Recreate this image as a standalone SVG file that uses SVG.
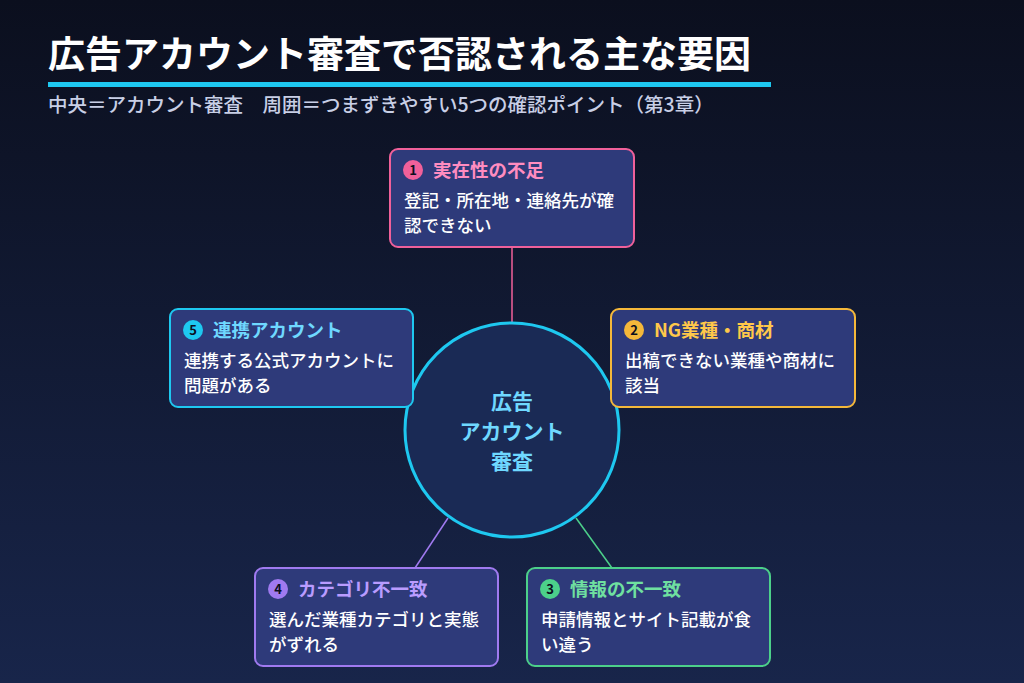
<svg xmlns="http://www.w3.org/2000/svg" width="1024" height="683" viewBox="0 0 1024 683">
<defs>
<linearGradient id="bg" x1="0" y1="0" x2="0" y2="1"><stop offset="0" stop-color="#0b0f1e"/><stop offset="1" stop-color="#18254a"/></linearGradient>
<style>
text{font-family:"Noto Sans CJK JP","Noto Sans",sans-serif}
.box{fill:#2e3a7a;stroke-width:2}
.t{font-size:18.5px;font-weight:bold}
.b{font-size:17.5px;fill:#ffffff;font-weight:500}
.n{font-size:13px;font-weight:bold;fill:#0b0f1e;text-anchor:middle}
</style>
</defs>
<rect width="1024" height="683" fill="url(#bg)"/>
<text x="48" y="68" font-size="37" font-weight="bold" fill="#ffffff">広告アカウント審査で否認される主な要因</text>
<rect x="48" y="82" width="723" height="5" fill="#1ec8f0"/>
<text x="48" y="112" font-size="19.5" font-weight="500" fill="#c8cfe6">中央＝アカウント審査　周囲＝つまずきやすい5つの確認ポイント（第3章）</text>
<g id="connectors" stroke-width="1.5">
<line x1="512" y1="247" x2="512" y2="322" stroke="#f0609a"/>
<line x1="413" y1="392" x2="418" y2="388" stroke="#1ec8f0"/>
<line x1="611" y1="392" x2="606" y2="388" stroke="#f5b83a"/>
<line x1="448" y1="518" x2="415" y2="568" stroke="#a07af0"/>
<line x1="576" y1="518" x2="612" y2="568" stroke="#4cd08a"/>
</g>
<g id="center">
<circle cx="512" cy="430" r="107" fill="#1a2a55" stroke="#1ec8f0" stroke-width="3"/>
<text x="512" y="409" font-size="21" font-weight="bold" fill="#6fd8ff" text-anchor="middle">広告</text>
<text x="512" y="439" font-size="21" font-weight="bold" fill="#6fd8ff" text-anchor="middle">アカウント</text>
<text x="512" y="469" font-size="21" font-weight="bold" fill="#6fd8ff" text-anchor="middle">審査</text>
</g>
<g id="n1">
<rect class="box" x="390" y="149" width="244" height="98" rx="8" stroke="#f0609a"/>
<circle cx="413" cy="170" r="10" fill="#f0609a"/><text class="n" x="413" y="175">1</text>
<text class="t" x="433" y="177" fill="#ff8cc0">実在性の不足</text>
<text class="b" x="404" y="207">登記・所在地・連絡先が確</text>
<text class="b" x="404" y="232">認できない</text>
</g>
<g id="n2">
<rect class="box" x="611" y="309" width="244" height="98" rx="8" stroke="#f5b83a"/>
<circle cx="634" cy="330" r="10" fill="#f5b83a"/><text class="n" x="634" y="335">2</text>
<text class="t" x="654" y="337" fill="#ffc84a">NG業種・商材</text>
<text class="b" x="625" y="367">出稿できない業種や商材に</text>
<text class="b" x="625" y="392">該当</text>
</g>
<g id="n3">
<rect class="box" x="527" y="568" width="243" height="98" rx="8" stroke="#4cd08a"/>
<circle cx="550" cy="589" r="10" fill="#4cd08a"/><text class="n" x="550" y="594">3</text>
<text class="t" x="570" y="596" fill="#6fe0a0">情報の不一致</text>
<text class="b" x="541" y="626">申請情報とサイト記載が食</text>
<text class="b" x="541" y="651">い違う</text>
</g>
<g id="n4">
<rect class="box" x="255" y="568" width="243" height="98" rx="8" stroke="#a07af0"/>
<circle cx="278" cy="589" r="10" fill="#a07af0"/><text class="n" x="278" y="594">4</text>
<text class="t" x="298" y="596" fill="#b99cff">カテゴリ不一致</text>
<text class="b" x="269" y="626">選んだ業種カテゴリと実態</text>
<text class="b" x="269" y="651">がずれる</text>
</g>
<g id="n5">
<rect class="box" x="170" y="309" width="243" height="98" rx="8" stroke="#1ec8f0"/>
<circle cx="193" cy="330" r="10" fill="#1ec8f0"/><text class="n" x="193" y="335">5</text>
<text class="t" x="213" y="337" fill="#6fd8ff">連携アカウント</text>
<text class="b" x="184" y="367">連携する公式アカウントに</text>
<text class="b" x="184" y="392">問題がある</text>
</g>
</svg>
